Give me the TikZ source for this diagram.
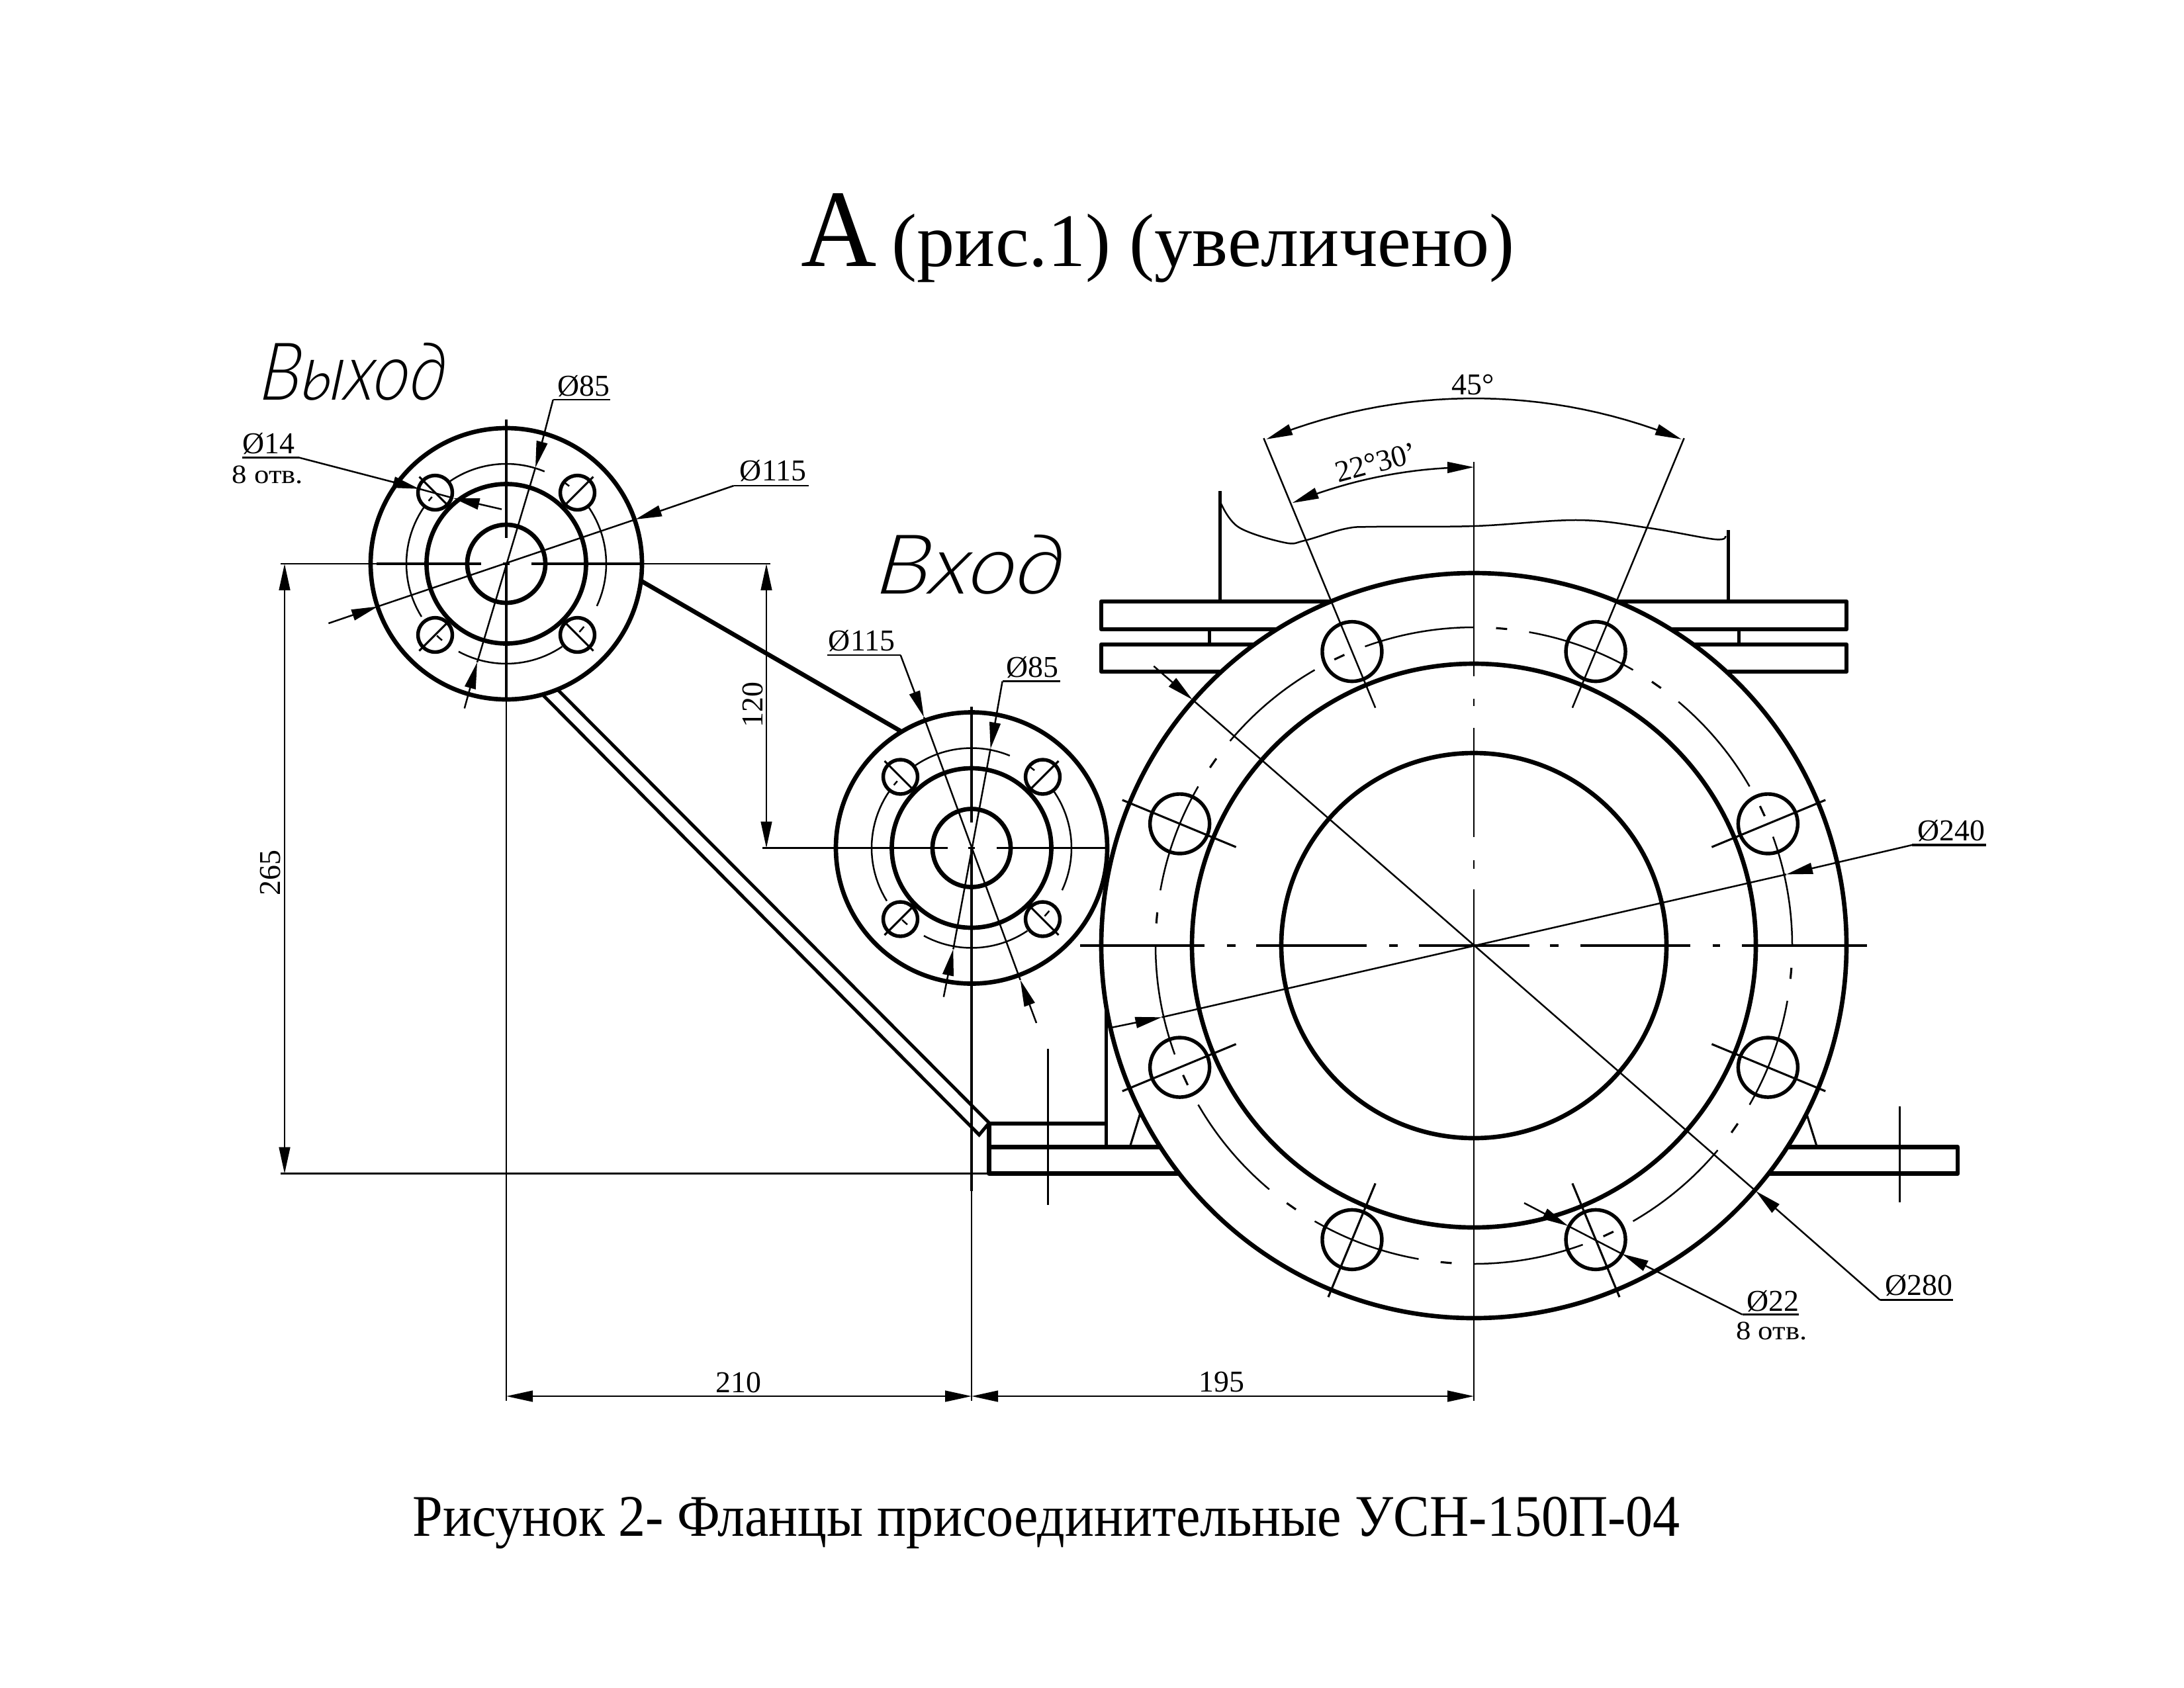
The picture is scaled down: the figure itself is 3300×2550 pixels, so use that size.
\documentclass[tikz,border=0pt]{standalone}
\usepackage{fontspec}
\setmainfont{Liberation Serif}
\newfontfamily\cadfont[FakeSlant=0.12,UprightFont=* Light Italic]{Lato}
\usetikzlibrary{arrows.meta,calc}
\tikzset{
  contour/.style={line width=1.6pt,line join=round},
  pipeline/.style={line width=1.2pt},
  axisline/.style={line width=.75pt},
  thinline/.style={line width=.6pt},
  headed/.style={line width=.6pt,-{Triangle[length=9.6pt,width=4pt]}},
  doublehead/.style={line width=.6pt,{Triangle[length=9.6pt,width=4pt]}-{Triangle[length=9.6pt,width=4pt]}},
  dimtext/.style={font=\fontsize{11}{13}\selectfont,inner sep=0pt,anchor=base},
  notetext/.style={font=\fontsize{9.6}{11}\selectfont,inner sep=0pt,anchor=base,xscale=1.12},
}
\def\bcarc#1#2#3#4#5{\draw[thinline] plot[domain=#4:#5,samples=24] ({#1+#3*cos(\x)},{#2-#3*sin(\x)});}
\def\smallflange#1#2{%
  \draw[contour] (#1,#2) circle[radius=205];
  \draw[contour] (#1,#2) circle[radius=120.5];
  \draw[contour] (#1,#2) circle[radius=59];
  \foreach \sx in {-1,1}{\foreach \sy in {-1,1}{%
    \draw[line width=1.3pt] ({#1+\sx*107.5},{#2+\sy*107.5}) circle[radius=26];
    \draw[axisline] ({#1+\sx*83.5},{#2+\sy*83.5}) -- ({#1+\sx*131.5},{#2+\sy*131.5});
  }}
  \bcarc{#1}{#2}{151}{67.5}{125}
  \bcarc{#1}{#2}{151}{145}{212}
  \bcarc{#1}{#2}{151}{241.5}{304}
  \bcarc{#1}{#2}{151}{-25}{36}
  \bcarc{#1}{#2}{151}{51}{55}
  \bcarc{#1}{#2}{151}{-43}{-39}
  \bcarc{#1}{#2}{151}{226}{230}
  \bcarc{#1}{#2}{151}{138}{141}
  \draw[axisline] ({#1-5},#2) -- ({#1+5},#2);
}
\begin{document}
\begin{tikzpicture}[x=0.24pt,y=-0.24pt]
\useasboundingbox (0,0) rectangle (3300,2550);

% ---- titles
\node[inner sep=0pt,anchor=base west,font=\fontsize{40}{44}\selectfont,xscale=.95] (titleA) at (1210,402) {А};
\node[inner sep=0pt,anchor=base west,font=\fontsize{27.4}{30}\selectfont] (titleB) at (1347,402) {(рис.1) (увеличено)};
\node[inner sep=0pt,anchor=base west,font=\fontsize{21.4}{24}\selectfont,xscale=.92] (caption) at (623,2321) {Рисунок 2- Фланцы присоединительные УСН-150П-04};
\node[inner sep=0pt,anchor=base west,font=\cadfont\fontsize{29}{32}\selectfont,xscale=.88] (outlabel) at (391,604) {Выход};
\node[inner sep=0pt,anchor=base west,font=\cadfont\fontsize{30}{33}\selectfont,xscale=1.12] (inlabel) at (1322,897) {Вход};

% ---- body behind the big flange
\draw[contour] (2011,909) -- (1664,909) -- (1664,951) -- (1930,951);
\draw[contour] (1895,974) -- (1664,974) -- (1664,1015) -- (1846,1015);
\draw[contour] (2443,909) -- (2790,909) -- (2790,951) -- (2524,951);
\draw[contour] (2559,974) -- (2790,974) -- (2790,1015) -- (2608,1015);
\draw[pipeline] (1827,951) -- (1827,974);
\draw[pipeline] (2627,951) -- (2627,974);
\draw[pipeline] (1843,742) -- (1843,909);
\draw[pipeline] (2611,801) -- (2611,909);
\draw[thinline] plot[smooth,tension=.6] coordinates {(1845,761) (1872,797) (1941,820) (1971,817) (2033,799) (2079,796) (2228,795) (2385,786) (2492,798) (2591,815) (2607,810)};

% ---- feet
\draw[contour] (1754,1733.5) -- (1494.6,1733.5);
\draw[contour] (1782,1773.7) -- (1494.6,1773.7) -- (1494.6,1698) -- (1671.4,1698);
\draw[pipeline] (1671.4,1523) -- (1671.4,1733.5);
\draw[axisline] (1708,1731) -- (1723,1682);
\draw[contour] (2701,1733.5) -- (2958,1733.5) -- (2958,1773.7) -- (2672,1773.7);
\draw[axisline] (2729,1681) -- (2745,1732);
\draw[thinline] (1583.7,1585) -- (1583.7,1821);
\draw[thinline] (2870.4,1672) -- (2870.4,1817);

% ---- struts
\draw[contour] (968.4,877.7) -- (1360.7,1104.8);
\draw[pipeline] (842,1041.6) -- (1494.6,1697) -- (1479.5,1715) -- (820,1050);

% ---- big flange
\def\cx{2227}\def\cy{1429}
\draw[contour] (\cx,\cy) circle[radius=563];
\draw[contour] (\cx,\cy) circle[radius=426];
\draw[contour] (\cx,\cy) circle[radius=291];
\foreach \k in {0,...,11}{%
  \pgfmathsetmacro\aa{30*\k}\pgfmathsetmacro\ab{30*\k+20}\pgfmathsetmacro\ac{30*\k+24}\pgfmathsetmacro\ad{30*\k+26}
  \bcarc{\cx}{\cy}{481}{\aa}{\ab}
  \draw[axisline] ({\cx+481*cos(\ac)},{\cy-481*sin(\ac)}) -- ({\cx+481*cos(\ad)},{\cy-481*sin(\ad)});
}
\foreach \a in {22.5,67.5,...,337.5}{%
  \draw[line width=1.3pt] ({\cx+481*cos(\a)},{\cy-481*sin(\a)}) circle[radius=45];
}
\foreach \a in {22.5,157.5,202.5,247.5,292.5,337.5}{%
  \draw[axisline] ({\cx+389*cos(\a)},{\cy-389*sin(\a)}) -- ({\cx+575*cos(\a)},{\cy-575*sin(\a)});
}
\foreach \a in {67.5,112.5}{%
  \draw[thinline] ({\cx+389*cos(\a)},{\cy-389*sin(\a)}) -- ({\cx+830*cos(\a)},{\cy-830*sin(\a)});
}
% centre lines
\foreach \a/\b in {1632/1820,1853.6/1867,1898/2065,2099/2111.6,2144/2311,2342/2355,2388/2553.6,2587.5/2599,2632/2821}{%
  \draw[axisline] (\a,\cy) -- (\b,\cy);
}
\foreach \a/\b in {698/1022,1056/1067,1100/1265,1300/1312.6,1344/2117}{%
  \draw[thinline] (\cx,\a) -- (\cx,\b);
}
% angle dimensions
\draw[doublehead] plot[domain=112.3:67.7,samples=30] ({\cx+827*cos(\x)},{\cy-827*sin(\x)});
\draw[doublehead] plot[domain=112.3:90,samples=20] ({\cx+723*cos(\x)},{\cy-723*sin(\x)});
\node[dimtext] (a45) at (2226,596) {45°};
\node[dimtext,rotate=15,anchor=center] (a22) at (2079,699) {22°30\char"0027};

% Ø240
\coordinate (d240a) at (2889,1277); \coordinate (d240b) at (1681,1552.6);
\draw[axisline] (3001,1277) -- (d240a);
\draw[headed] (d240a) -- (2699,1321.4);
\draw[thinline] (2699,1321.4) -- (1755.4,1537.3);
\draw[headed] (d240b) -- (1755.4,1537.3);
\node[dimtext] (t240) at (2948,1270.6) {Ø240};
% Ø280
\coordinate (d280a) at (2840.8,1964.7); \coordinate (d280b) at (1743.3,1006.7);
\draw[thinline] (2951,1964.7) -- (d280a);
\draw[headed] (d280a) -- (2653,1800);
\draw[thinline] (2653,1800) -- (1801.7,1057.3);
\draw[headed] (d280b) -- (1801.7,1057.3);
\node[dimtext] (t280) at (2899,1957.6) {Ø280};
% Ø22
\coordinate (d22a) at (2632.6,1986.6); \coordinate (d22b) at (2303,1818);
\draw[thinline] (2718.4,1986.6) -- (d22a);
\draw[headed] (d22a) -- (2451,1895);
\draw[thinline] (2451,1895) -- (2369.4,1852.7);
\draw[headed] (d22b) -- (2369.4,1852.7);
\node[dimtext] (t22) at (2679,1981) {Ø22};
\node[notetext] (n22) at (2677,2024.6) {8 отв.};

% ---- left flange (Выход)
\def\lx{765}\def\ly{852}
\smallflange{\lx}{\ly}
\draw[axisline] (569,\ly) -- (727,\ly);
\draw[axisline] (803,\ly) -- (970,\ly);
\draw[thinline] (424,\ly) -- (569,\ly);
\draw[thinline] (970,\ly) -- (1164,\ly);
\draw[axisline] (\lx,634) -- (\lx,813);
\draw[axisline] (\lx,851) -- (\lx,1057);
\draw[thinline] (\lx,1057) -- (\lx,2117);
% Ø85
\coordinate (l85a) at (835.7,604); \coordinate (l85b) at (701.8,1070.5);
\draw[thinline] (922,604) -- (l85a);
\draw[headed] (l85a) -- (809,706.7);
\draw[thinline] (809,706.7) -- (721,1001);
\draw[headed] (l85b) -- (721,1001);
\node[dimtext] (tl85) at (882,598) {Ø85};
% Ø115
\coordinate (l115a) at (1108.7,734); \coordinate (l115b) at (496.4,942);
\draw[thinline] (1221.6,734) -- (l115a);
\draw[headed] (l115a) -- (960,785);
\draw[thinline] (960,785) -- (571,916.5);
\draw[headed] (l115b) -- (571,916.5);
\node[dimtext] (tl115) at (1168,726.8) {Ø115};
% Ø14
\coordinate (l14a) at (451.8,691.5); \coordinate (l14b) at (758,769.6);
\draw[thinline] (365.7,691.5) -- (l14a);
\draw[headed] (l14a) -- (633.5,738.8);
\draw[thinline] (633.5,738.8) -- (684.6,752.7);
\draw[headed] (l14b) -- (684.6,752.7);
\node[dimtext] (tl14) at (405.5,685.7) {Ø14};
\node[notetext] (nl14) at (404.5,730) {8 отв.};

% ---- middle flange (Вход)
\def\mx{1468}\def\my{1281.5}
\smallflange{\mx}{\my}
\draw[thinline] (1152,\my) -- (1431.5,\my);
\draw[thinline] (1506,\my) -- (1674.5,\my);
\draw[axisline] (\mx,1068) -- (\mx,1243);
\draw[axisline] (\mx,1281.5) -- (\mx,1800);
\draw[thinline] (\mx,1800) -- (\mx,2117);
% Ø115
\coordinate (m115a) at (1360.7,990); \coordinate (m115b) at (1566,1546);
\draw[thinline] (1250,990) -- (m115a);
\draw[headed] (m115a) -- (1396,1083.8);
\draw[thinline] (1396,1083.8) -- (1541.7,1481);
\draw[headed] (m115b) -- (1541.7,1481);
\node[dimtext] (tm115) at (1302,983.7) {Ø115};
% Ø85
\coordinate (m85a) at (1514.6,1029.6); \coordinate (m85b) at (1425.8,1506.6);
\draw[thinline] (1601.8,1029.6) -- (m85a);
\draw[headed] (m85a) -- (1496.6,1131.6);
\draw[thinline] (1496.6,1131.6) -- (1440.3,1434.5);
\draw[headed] (m85b) -- (1440.3,1434.5);
\node[dimtext] (tm85) at (1560,1023) {Ø85};

% ---- linear dimensions
\coordinate (p1) at (430,852); \coordinate (p2) at (430,1773.7);
\draw[thinline] (424,1773.7) -- (1494.6,1773.7);
\draw[doublehead] (p1) -- (p2);
\node[dimtext,rotate=90] (t265) at (423,1319) {265};
\coordinate (p3) at (1158,852); \coordinate (p4) at (1158,1281.5);
\draw[doublehead] (p3) -- (p4);
\node[dimtext,rotate=90] (t120) at (1152,1065) {120};
\coordinate (b1) at (765,2110); \coordinate (b2) at (1468,2110); \coordinate (b3) at (2227,2110);
\draw[doublehead] (b1) -- (b2);
\draw[doublehead] (b2) -- (b3);
\node[dimtext] (t210) at (1116,2104) {210};
\node[dimtext] (t195) at (1846,2103.5) {195};
\end{tikzpicture}
\end{document}
